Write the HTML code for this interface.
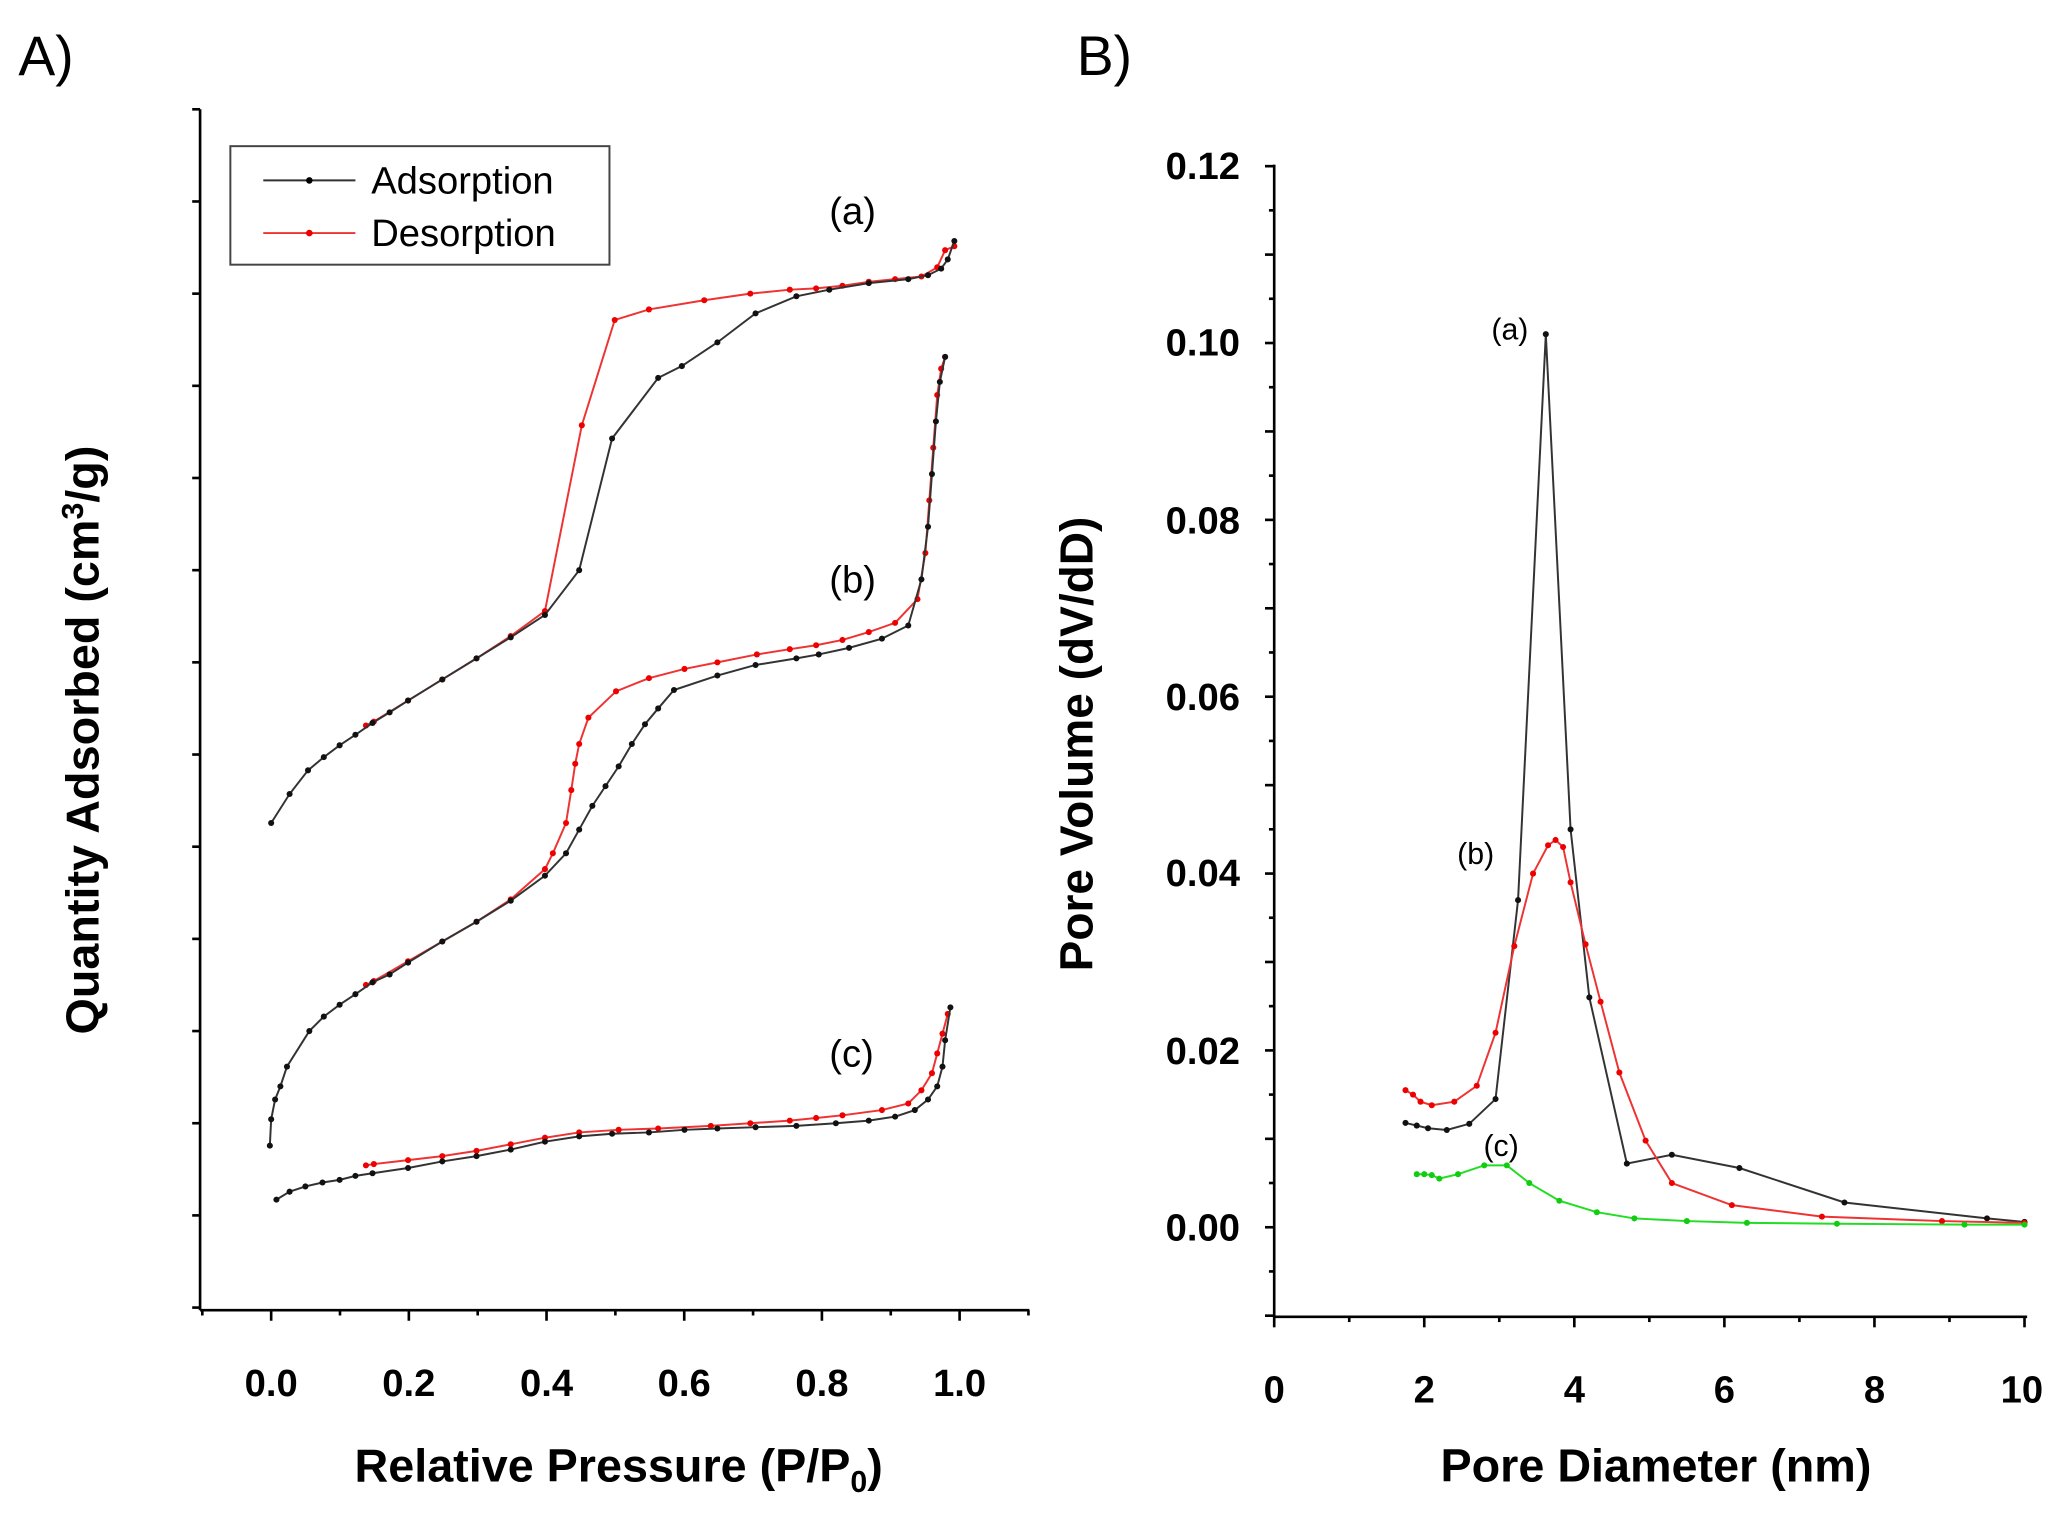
<!DOCTYPE html>
<html><head><meta charset="utf-8"><style>
html,body{margin:0;padding:0;background:#fff;}
svg{display:block;}
text{font-family:"Liberation Sans",sans-serif;}
</style></head><body>
<svg id="s" width="2064" height="1513" viewBox="0 0 1568 1149" preserveAspectRatio="none" xmlns="http://www.w3.org/2000/svg">
<rect width="1568" height="1149" fill="#fff"/>
<text x="14" y="57" font-size="42">A)</text>
<text x="818" y="57" font-size="42">B)</text>
<g stroke="#000" stroke-width="2" fill="none" id="axes">
<line x1="152" y1="83" x2="152" y2="995"/>
<line x1="152" y1="995" x2="782" y2="995"/>
<line x1="968" y1="125" x2="968" y2="1000"/>
<line x1="968" y1="1000" x2="1540" y2="1000"/>
</g>
<g font-weight="bold" font-size="29" text-anchor="middle">
<text x="206" y="1060">0.0</text><text x="310.6" y="1060">0.2</text><text x="415.2" y="1060">0.4</text><text x="519.8" y="1060">0.6</text><text x="624.4" y="1060">0.8</text><text x="729" y="1060">1.0</text>
<text x="968" y="1065">0</text><text x="1082" y="1065">2</text><text x="1196" y="1065">4</text><text x="1310" y="1065">6</text><text x="1424" y="1065">8</text><text x="1536" y="1065">10</text>
</g>
<g font-weight="bold" font-size="29" text-anchor="end">
<text x="942" y="942">0.00</text><text x="942" y="808">0.02</text><text x="942" y="673">0.04</text><text x="942" y="539">0.06</text><text x="942" y="405">0.08</text><text x="942" y="270">0.10</text><text x="942" y="136">0.12</text>
</g>
<text x="470" y="1125" font-size="35.5" font-weight="bold" text-anchor="middle">Relative Pressure (P/P<tspan font-size="23" dy="8">0</tspan><tspan dy="-8">)</tspan></text>
<text x="1258" y="1125" font-size="35.5" font-weight="bold" text-anchor="middle">Pore Diameter (nm)</text>
<text transform="translate(75,562) rotate(-90)" font-size="35.5" font-weight="bold" text-anchor="middle">Quantity Adsorbed (cm<tspan font-size="23" dy="-12">3</tspan><tspan dy="12">/g)</tspan></text>
<text transform="translate(830,565) rotate(-90)" font-size="35" font-weight="bold" text-anchor="middle">Pore Volume (dV/dD)</text>
<rect x="175" y="111" width="288" height="90" fill="#fff" stroke="#444" stroke-width="1.5"/>
<line x1="200" y1="137" x2="270" y2="137" stroke="#333" stroke-width="1.5"/><circle cx="235" cy="137" r="2.5"/>
<line x1="200" y1="177" x2="270" y2="177" stroke="#e33" stroke-width="1.5"/><circle cx="235" cy="177" r="2.5" fill="#e00"/>
<text x="282" y="147" font-size="29">Adsorption</text>
<text x="282" y="187" font-size="29">Desorption</text>
<g font-size="29"><text x="630" y="170">(a)</text><text x="630" y="450">(b)</text><text x="630" y="810">(c)</text></g>
<g font-size="23"><text x="1133" y="258">(a)</text><text x="1107" y="656">(b)</text><text x="1127" y="878">(c)</text></g>
<g id="plots"></g>
</svg>
<script>
var NS="http://www.w3.org/2000/svg",s=document.getElementById('s'),axes=document.getElementById('axes'),P=document.getElementById('plots');
function L(x1,y1,x2,y2){var l=document.createElementNS(NS,'line');l.setAttribute('x1',x1);l.setAttribute('y1',y1);l.setAttribute('x2',x2);l.setAttribute('y2',y2);axes.appendChild(l);}
for(var y=83;y<=995;y+=70)L(146,y,152,y);
for(var i=-1;i<=11;i++){var x=206+52.3*i;L(x,995,x,i%2==0?1003:999);}
for(var i=-1;i<=12;i++){var y=932-67.15*i;L(961,y,968,y);if(i<12)L(964,y-33.6,968,y-33.6);}
for(var i=0;i<=10;i++){var x=968+57*i;L(x,1000,x,i%2==0?1008:1004);}
function plot(pts,col,lc,r){var pl=document.createElementNS(NS,'polyline');pl.setAttribute('points',pts.map(function(p){return p.join(',')}).join(' '));pl.setAttribute('fill','none');pl.setAttribute('stroke',lc);pl.setAttribute('stroke-width','1.5');P.appendChild(pl);
pts.forEach(function(p){var c=document.createElementNS(NS,'circle');c.setAttribute('cx',p[0]);c.setAttribute('cy',p[1]);c.setAttribute('r',r||2.3);c.setAttribute('fill',col);P.appendChild(c);});}
var aA=[[206,625],[220,603],[234,585],[246,575],[258,566],[270,558],[283,549],[296,541],[310,532],[336,516],[362,500],[388,484],[414,467],[440,433],[465,333],[500,287],[518,278],[545,260],[574,238],[605,225],[630,220],[660,215],[690,212],[705,209],[715,204],[720,197],[725,183]];
var aD=[[278,551],[284,548],[310,532],[336,516],[362,500],[388,483],[414,464],[442,323],[467,243],[493,235],[535,228],[570,223],[600,220],[620,219],[640,217],[660,214],[680,212],[700,210],[712,203],[718,190],[725,187]];
var bA=[[205,870],[206,850],[209,835],[213,825],[218,810],[235,783],[246,772],[258,763],[270,755],[283,746],[296,740],[310,731],[336,715],[362,700],[388,684],[414,665],[430,648],[440,630],[450,612],[460,597],[470,582],[480,565],[490,550],[500,538],[512,524],[545,513],[574,505],[605,500],[622,497],[645,492],[670,485],[690,475],[700,440],[705,400],[708,360],[711,320],[714,290],[718,271]];
var bD=[[278,748],[284,745],[310,730],[336,715],[362,700],[388,683],[414,660],[420,648],[430,625],[434,600],[437,580],[440,565],[447,545],[468,525],[493,515],[520,508],[545,503],[575,497],[600,493],[620,490],[640,486],[660,480],[680,473],[697,455],[703,420],[706,380],[709,340],[712,300],[715,280],[718,271]];
var cA=[[210,911],[220,905],[232,901],[245,898],[258,896],[270,893],[283,891],[310,887],[336,882],[362,878],[388,873],[414,867],[440,863],[465,861],[493,860],[520,858],[545,857],[574,856],[605,855],[635,853],[660,851],[680,848],[695,843],[705,835],[712,825],[716,810],[718,790],[722,765]];
var cD=[[278,885],[284,884],[310,881],[336,878],[362,874],[388,869],[414,864],[440,860],[470,858],[500,857],[540,855],[570,853],[600,851],[620,849],[640,847],[670,843],[690,838],[700,828],[708,815],[712,800],[716,785],[720,770]];
plot(aD,'#e00','#e33');plot(aA,'#111','#333');
plot(bD,'#e00','#e33');plot(bA,'#111','#333');
plot(cD,'#e00','#e33');plot(cA,'#111','#333');
function B(a){return a.map(function(p){return [968+57*p[0],932-6715*p[1]];});}
var Ba=[[1.75,0.0118],[1.9,0.0115],[2.05,0.0112],[2.3,0.011],[2.6,0.0117],[2.95,0.0145],[3.25,0.037],[3.62,0.101],[3.95,0.045],[4.2,0.026],[4.7,0.0072],[5.3,0.0082],[6.2,0.0067],[7.6,0.0028],[9.5,0.001],[10,0.0006]];
var Bb=[[1.75,0.0155],[1.85,0.015],[1.95,0.0142],[2.1,0.0138],[2.4,0.0142],[2.7,0.016],[2.95,0.022],[3.2,0.0318],[3.45,0.04],[3.65,0.0432],[3.75,0.0438],[3.85,0.043],[3.95,0.039],[4.15,0.032],[4.35,0.0255],[4.6,0.0175],[4.95,0.0098],[5.3,0.005],[6.1,0.0025],[7.3,0.0012],[8.9,0.0007],[10,0.0005]];
var Bc=[[1.9,0.006],[2,0.006],[2.1,0.0059],[2.2,0.0055],[2.45,0.006],[2.8,0.007],[3.1,0.007],[3.4,0.005],[3.8,0.003],[4.3,0.0017],[4.8,0.001],[5.5,0.0007],[6.3,0.0005],[7.5,0.0004],[9.2,0.0003],[10,0.0003]];
plot(B(Ba),'#111','#333');plot(B(Bb),'#e00','#e33');plot(B(Bc),'#1c1','#2d2');
</script>
</body></html>
